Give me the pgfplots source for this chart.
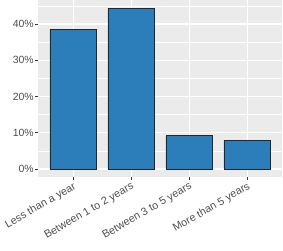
\documentclass[border=0pt]{standalone}
\usepackage{fontspec}
\setmainfont{Liberation Sans}
\usepackage{pgfplots}
\pgfplotsset{compat=1.18}
\definecolor{panelbg}{HTML}{EBEBEB}
\definecolor{barfill}{RGB}{43,126,185}
\definecolor{ticklab}{HTML}{4D4D4D}
\definecolor{tickcol}{HTML}{333333}
\begin{document}
\begin{tikzpicture}[x=1bp,y=1bp]
\useasboundingbox (0,0) rectangle (283,251);
\begin{axis}[
  at={(38.3bp,251bp)}, anchor=north west,
  scale only axis, width=243.7bp, height=177bp,
  xmin=-0.6, xmax=3.6, ymin=-2.22, ymax=46.62,
  axis background/.style={fill=panelbg},
  axis line style={draw=none},
  xtick={0,1,2,3},
  xticklabels={Less than a year,Between 1 to 2 years,Between 3 to 5 years,More than 5 years},
  ytick={0,10,20,30,40},
  yticklabels={0\%,10\%,20\%,30\%,40\%},
  minor ytick={5,15,25,35,45},
  grid=both,
  xmajorgrids=true, ymajorgrids=true, yminorgrids=true,
  major grid style={white, line width=1.1bp},
  minor grid style={white, line width=0.55bp},
  tick align=outside,
  major tick length=2.8bp,
  minor tick length=0pt,
  tick style={tickcol, line width=0.5bp},
  yticklabel style={font=\fontsize{10.5}{12}\selectfont, text=ticklab, inner sep=1.5bp},
  xticklabel style={font=\fontsize{10.8}{12}\selectfont, text=ticklab, rotate=30, anchor=north east, inner sep=1.2bp},
  xtick pos=bottom, ytick pos=left,
  clip=false,
]
\addplot[ybar, bar width=0.8, fill=barfill, draw=black!85, line width=0.8bp]
  coordinates {(0,38.6) (1,44.4) (2,9.2) (3,7.8)};
\end{axis}
\end{tikzpicture}
\end{document}
